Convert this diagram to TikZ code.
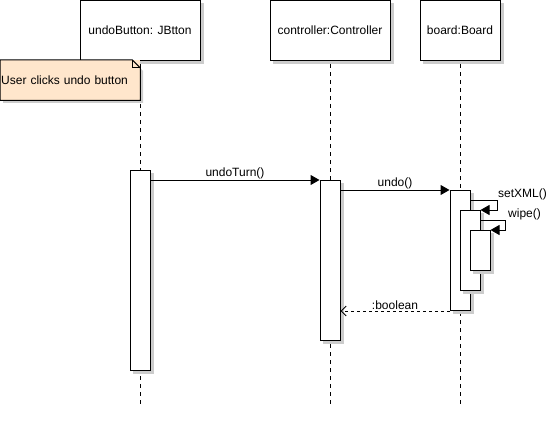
\documentclass[tikz,border=0pt]{standalone}
\usepackage{fontspec}
\setmainfont{Liberation Sans}
\usetikzlibrary{arrows.meta}

\definecolor{notefill}{HTML}{FFE6CC}
\definecolor{shadowgray}{HTML}{CCCCCC}

\tikzset{
  every node/.style={font=\fontsize{12}{14}\selectfont},
  shadowed/.style={preaction={draw=shadowgray, fill=shadowgray, transform canvas={xshift=3pt, yshift=-3pt}}},
  object/.style={draw, line width=1pt, fill=white, shadowed, minimum width=120pt, minimum height=60pt, anchor=north, inner sep=0pt},
  act/.style={draw, line width=1pt, fill=white, shadowed, minimum width=20pt, anchor=north, inner sep=0pt},
  lifeline/.style={line width=1pt, dash pattern=on 4pt off 4pt},
  msg/.style={line width=1pt, -{Triangle[length=9pt, width=10pt]}},
  reply/.style={line width=1pt, dash pattern=on 3pt off 3pt, -{Straight Barb[length=5pt, width=10pt]}},
  msglabel/.style={inner sep=1pt}
}

\begin{document}
\begin{tikzpicture}[x=1pt, y=-1pt]
\useasboundingbox (0,0) rectangle (551,425);

% Objects
\node[object] (button) at (140,0) {undoButton: JBtton};
\node[object] (ctrl) at (330,0) {controller:Controller};
\node[object, minimum width=80pt] (board) at (460,0) {board:Board};

% Lifelines
\coordinate (buttonend) at (140,405);
\coordinate (ctrlend) at (330,405);
\coordinate (boardend) at (460,405);
\draw[lifeline] ([yshift=-3pt]button.south) -- (buttonend);
\draw[lifeline] ([yshift=-3pt]ctrl.south) -- (ctrlend);
\draw[lifeline] ([yshift=-3pt]board.south) -- (boardend);

% Note
\fill[shadowgray] (3,63) -- (135,63) -- (143,71) -- (143,103) -- (3,103) -- cycle;
\node[fill=notefill, minimum width=140pt, minimum height=40pt, anchor=north west, inner sep=1pt, text width=138pt, align=left] (note) at (0,60) {User clicks undo button};
\draw[line width=1pt] (note.north west) -- ([xshift=-8pt]note.north east) -- ([yshift=-8pt]note.north east)
  -- (note.south east) -- (note.south west) -- cycle;
\draw[line width=1pt] ([xshift=-8pt]note.north east) -- ([xshift=-8pt, yshift=-8pt]note.north east) -- ([yshift=-8pt]note.north east);

% Activations
\node[act, minimum height=200pt] (btnact) at (140,170) {};
\node[act, minimum height=160pt] (ctrlact) at (330,180) {};
\node[act, minimum height=120pt] (boardact) at (460,190) {};
\node[act, minimum height=80pt] (xmlact) at (470,210) {};
\node[act, minimum height=40pt] (wipeact) at (480,230) {};

% Messages
\draw[msg] (btnact.east |- ctrlact.north west) -- node[above, msglabel] {undoTurn()} (ctrlact.north west);
\draw[msg] (ctrlact.east |- boardact.north west) -- node[above, msglabel] {undo()} (boardact.north west);
\draw[msg] ([yshift=10pt]xmlact.north) -- ++(27,0) coordinate (xmlturn) |- (xmlact.north east);
\node[anchor=west, msglabel] at ([yshift=6pt]xmlturn) {setXML()};
\draw[msg] ([yshift=10pt]wipeact.north) -- ++(25,0) coordinate (wipeturn) |- (wipeact.north east);
\node[anchor=west, msglabel] at ([xshift=2pt, yshift=6pt]wipeturn) {wipe()};
\draw[reply] (boardact.south west) -- node[above, msglabel] {:boolean} (ctrlact.east |- boardact.south west);
\end{tikzpicture}
\end{document}
